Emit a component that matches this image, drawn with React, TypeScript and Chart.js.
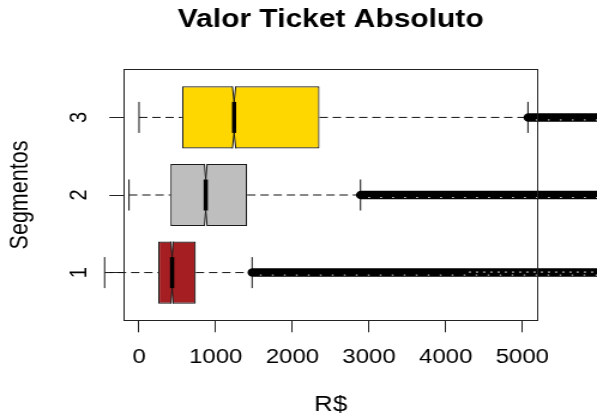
import { useEffect, useRef } from 'react';
import { Chart, registerables } from 'chart.js';

Chart.register(...registerables);

// ---- data ----
const chartTitle = 'Valor Ticket Absoluto';
const xTitle = 'R$';
const yTitle = 'Segmentos';
const segments = [1, 2, 3];
const segmentLabels = ['1', '2', '3'];
const q1 = [250, 409, 561];
const medians = [431, 870, 1240];
const q3 = [740, 1410, 2354];
const whiskerLow = [-449, -131, 0];
const whiskerHigh = [1475, 2889, 5073];
const notchHalfWidth = [15, 18, 22];
const outlierMin = [1482, 2896, 5082];
const outlierMax = [6500, 6500, 6500];
const outlierSparseFrom = [4300, null, null];
const boxColors = ['#A41E22', '#BEBEBE', '#FFD700'];
const xTicks = [0, 1000, 2000, 3000, 4000, 5000];
const xMin = -200;
const xMax = 5200;
const yMin = 0.38;
const yMax = 3.62;
const boxWidth = 0.8;
const stapleRatio = 0.5;

const FONT = "'Liberation Sans', Arial, Helvetica, sans-serif";
const W = 498;
const H = 420;

const boxplotParts = {
  id: 'boxplotParts',
  afterDatasetsDraw(chart: any) {
    const { ctx, scales } = chart;
    const x = scales.x;
    const y = scales.y;
    ctx.save();
    segments.forEach((s, i) => {
      const yc = y.getPixelForValue(s);
      const halfBox = Math.abs(y.getPixelForValue(s + boxWidth / 2) - yc);
      const staple = halfBox * stapleRatio;
      const top = yc - halfBox;
      const bottom = yc + halfBox;
      const quarter = halfBox / 2;

      // whiskers (dashed)
      ctx.strokeStyle = '#111';
      ctx.lineWidth = 1;
      ctx.lineCap = 'butt';
      ctx.setLineDash([7, 4]);
      ctx.beginPath();
      ctx.moveTo(x.getPixelForValue(whiskerLow[i]), yc);
      ctx.lineTo(x.getPixelForValue(q1[i]), yc);
      ctx.moveTo(x.getPixelForValue(q3[i]), yc);
      ctx.lineTo(x.getPixelForValue(whiskerHigh[i]), yc);
      ctx.stroke();
      ctx.setLineDash([]);

      // staples
      ctx.beginPath();
      [whiskerLow[i], whiskerHigh[i]].forEach((v) => {
        const px = x.getPixelForValue(v);
        ctx.moveTo(px, yc - staple);
        ctx.lineTo(px, yc + staple);
      });
      ctx.stroke();

      // notch
      const mx = x.getPixelForValue(medians[i]);
      const nl = x.getPixelForValue(medians[i] - notchHalfWidth[i]);
      const nr = x.getPixelForValue(medians[i] + notchHalfWidth[i]);
      ctx.fillStyle = '#fff';
      ctx.beginPath();
      ctx.moveTo(nl, top - 1);
      ctx.lineTo(mx, yc - quarter);
      ctx.lineTo(nr, top - 1);
      ctx.closePath();
      ctx.fill();
      ctx.beginPath();
      ctx.moveTo(nl, bottom + 1);
      ctx.lineTo(mx, yc + quarter);
      ctx.lineTo(nr, bottom + 1);
      ctx.closePath();
      ctx.fill();
      ctx.strokeStyle = '#1a1a1a';
      ctx.beginPath();
      ctx.moveTo(nl, top);
      ctx.lineTo(mx, yc - quarter);
      ctx.lineTo(nr, top);
      ctx.moveTo(nl, bottom);
      ctx.lineTo(mx, yc + quarter);
      ctx.lineTo(nr, bottom);
      ctx.stroke();

      // median
      ctx.strokeStyle = '#000';
      ctx.lineWidth = 3.5;
      ctx.beginPath();
      ctx.moveTo(mx, yc - quarter);
      ctx.lineTo(mx, yc + quarter);
      ctx.stroke();

      // outliers (dense band of circles)
      const ox0 = x.getPixelForValue(outlierMin[i]);
      const ox1 = x.getPixelForValue(outlierMax[i]);
      ctx.strokeStyle = '#000';
      ctx.lineWidth = 8.5;
      ctx.lineCap = 'round';
      ctx.beginPath();
      ctx.moveTo(ox0, yc);
      ctx.lineTo(ox1, yc);
      ctx.stroke();
      // tiny gaps between circles
      ctx.lineCap = 'butt';
      ctx.lineWidth = 1;
      ctx.strokeStyle = 'rgba(255,255,255,0.85)';
      ctx.setLineDash([1.5, 8.5]);
      ctx.beginPath();
      ctx.moveTo(ox0 + 6, yc + 2.5);
      ctx.lineTo(ox1, yc + 2.5);
      ctx.stroke();
      const sp = outlierSparseFrom[i];
      if (sp !== null) {
        ctx.setLineDash([2, 4]);
        ctx.beginPath();
        ctx.moveTo(x.getPixelForValue(sp), yc - 0.5);
        ctx.lineTo(ox1, yc - 0.5);
        ctx.stroke();
      }
      ctx.setLineDash([]);
    });
    ctx.restore();
  },
  afterDraw(chart: any) {
    const { ctx, chartArea } = chart;
    ctx.save();
    ctx.strokeStyle = '#222';
    ctx.lineWidth = 1;
    ctx.strokeRect(
      Math.round(chartArea.left) + 0.5,
      Math.round(chartArea.top) + 0.5,
      Math.round(chartArea.right - chartArea.left),
      Math.round(chartArea.bottom - chartArea.top)
    );
    ctx.restore();
  },
};

export default function App() {
  const ref = useRef<HTMLCanvasElement | null>(null);

  useEffect(() => {
    document.body.style.margin = '0';
    const canvas = ref.current;
    if (!canvas) return;
    const chart = new Chart(canvas, {
      type: 'bar',
      data: {
        datasets: [
          {
            data: segments.map((s, i) => ({ x: [q1[i], q3[i]], y: s })) as any,
            backgroundColor: boxColors,
            borderColor: '#1a1a1a',
            borderWidth: 1.2,
            borderSkipped: false,
            categoryPercentage: 1,
            barPercentage: boxWidth,
          } as any,
        ],
      },
      options: {
        indexAxis: 'y',
        responsive: false,
        animation: false,
        devicePixelRatio: 1,
        layout: { padding: { left: 0, right: 49.5, top: 0, bottom: 0 } },
        plugins: {
          legend: { display: false },
          tooltip: { enabled: false },
          title: {
            display: true,
            text: chartTitle,
            color: '#000',
            fullSize: false,
            font: { family: FONT, size: 25, weight: 'bold' },
            padding: { top: 5.5, bottom: 33.8 },
          },
        },
        scales: {
          x: {
            type: 'linear',
            min: xMin,
            max: xMax,
            offset: false,
            afterBuildTicks: (axis: any) => {
              axis.ticks = xTicks.map((v) => ({ value: v }));
            },
            afterFit: (s: any) => {
              s.height = 99.3;
            },
            grid: { offset: false, drawOnChartArea: false, drawTicks: true, tickLength: 11.6, color: '#222', lineWidth: 1 },
            border: { display: false },
            ticks: {
              color: '#000',
              font: { family: FONT, size: 20 },
              padding: 13.2,
              maxRotation: 0,
              autoSkip: false,
              callback: (v: any) => String(v),
            },
            title: {
              display: true,
              text: xTitle,
              color: '#000',
              font: { family: FONT, size: 21.5 },
              padding: { top: 0, bottom: 2.4 },
            },
          },
          y: {
            type: 'linear',
            min: yMin,
            max: yMax,
            offset: false,
            afterBuildTicks: (axis: any) => {
              axis.ticks = segments.map((v) => ({ value: v }));
            },
            afterFit: (s: any) => {
              s.width = 103.2;
            },
            grid: { offset: false, drawOnChartArea: false, drawTicks: true, tickLength: 12, color: '#222', lineWidth: 1 },
            border: { display: false },
            ticks: {
              color: '#000',
              font: { family: FONT, size: 20 },
              padding: 18.9,
              minRotation: 90,
              maxRotation: 90,
              crossAlign: 'center',
              autoSkip: false,
              callback: (v: any) => {
                const k = segments.indexOf(v);
                return k >= 0 ? segmentLabels[k] : '';
              },
            },
            title: {
              display: true,
              text: yTitle,
              color: '#000',
              font: { family: FONT, size: 21.5 },
              padding: { top: 4.5, bottom: 0 },
            },
          },
        },
      } as any,
      plugins: [boxplotParts],
    });
    return () => chart.destroy();
  }, []);

  return (
    <div style={{ width: '597px', height: '420px', overflow: 'hidden' }}>
      <canvas
        ref={ref}
        width={W}
        height={H}
        style={{ width: '597px', height: '420px', display: 'block' }}
      />
    </div>
  );
}
